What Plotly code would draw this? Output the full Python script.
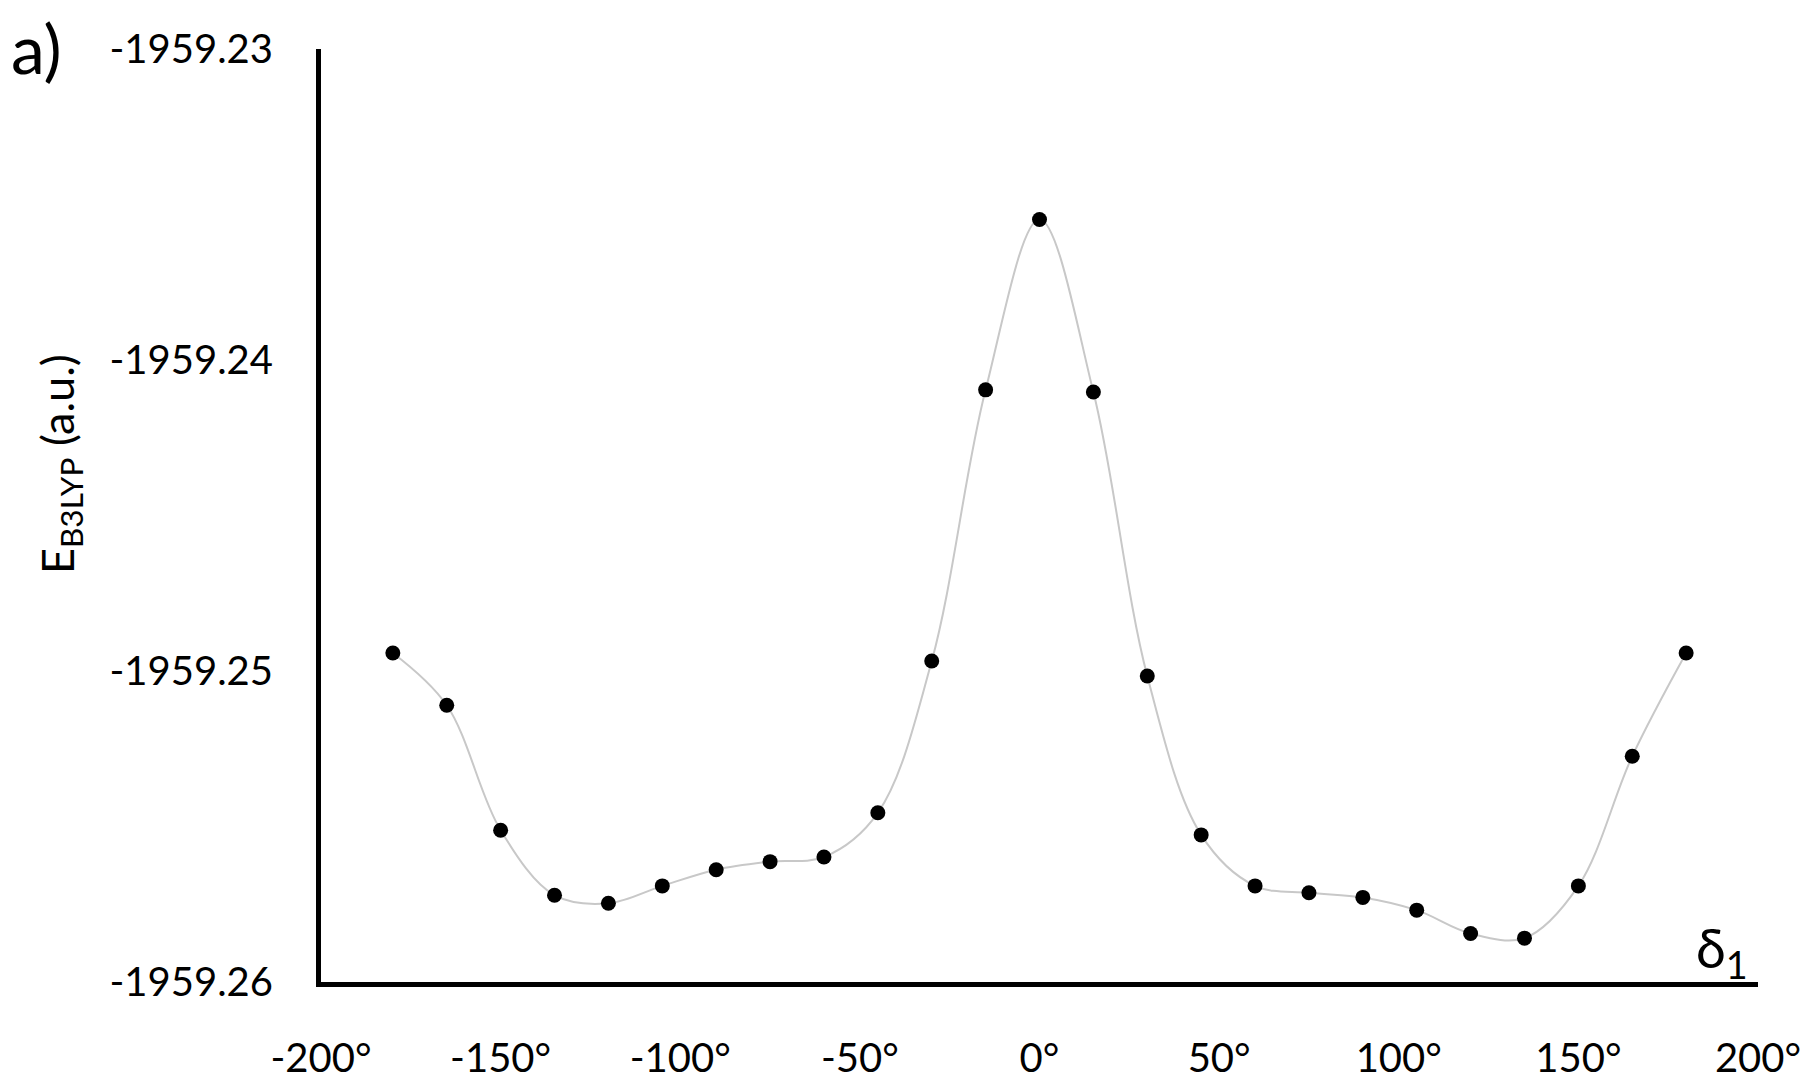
import plotly.graph_objects as go

# torsion angle delta_1 (degrees) and B3LYP energy (a.u.)
angles = [-180, -165, -150, -135, -120, -105, -90, -75, -60, -45, -30, -15, 0,
          15, 30, 45, 60, 75, 90, 105, 120, 135, 150, 165, 180]
energies = [-1959.24942, -1959.25110, -1959.25512, -1959.25721, -1959.25747,
            -1959.25691, -1959.25639, -1959.25613, -1959.25598, -1959.25456,
            -1959.24968, -1959.24096, -1959.23548, -1959.24103, -1959.25016,
            -1959.25527, -1959.25691, -1959.25713, -1959.25728, -1959.25769,
            -1959.25844, -1959.25859, -1959.25691, -1959.25274, -1959.24942]

x_ticks = [-200, -150, -100, -50, 0, 50, 100, 150, 200]
x_labels = [f"{v}°" for v in x_ticks]
y_ticks = [-1959.26, -1959.25, -1959.24, -1959.23]
y_labels = ["-1959.26", "-1959.25", "-1959.24", "-1959.23"]

FONT = "Lato, 'Open Sans', sans-serif"
W, H = 1815, 1080
# the page body adds an 8px offset, margins compensate for it
L, R, T, B = 313, 65, 41, 106


def paper(px, py):
    # figure pixel position -> paper coordinates of the plot area
    return (px - L) / (W - L - R), (H - B - py) / (H - T - B)


fig = go.Figure()

fig.add_trace(go.Scatter(
    x=angles, y=energies,
    mode="lines",
    line=dict(shape="spline", smoothing=1.0, color="#c8c8c8", width=2),
    hoverinfo="skip",
    showlegend=False,
))
fig.add_trace(go.Scatter(
    x=angles, y=energies,
    mode="markers",
    marker=dict(color="black", size=15),
    showlegend=False,
))

ax, ay = paper(28, 39)
tx, ty = paper(52, 456)
dx, dy = paper(1714, 943)

fig.update_layout(
    width=W, height=H,
    paper_bgcolor="white", plot_bgcolor="white",
    margin=dict(l=L, r=R, t=T, b=B),
    font=dict(family=FONT, size=40, color="black"),
    xaxis=dict(
        range=[-200, 200], tickvals=x_ticks, ticktext=x_labels,
        showline=True, linewidth=5, linecolor="black",
        showgrid=False, zeroline=False, ticks="",
        ticklabelstandoff=37, automargin=False,
        tickfont=dict(size=40),
    ),
    yaxis=dict(
        range=[-1959.26, -1959.23], tickvals=y_ticks, ticktext=y_labels,
        showline=True, linewidth=5, linecolor="black",
        showgrid=False, zeroline=False, ticks="",
        ticklabelstandoff=35, automargin=False,
        tickfont=dict(size=40),
    ),
    annotations=[
        dict(text="E<sub>B3LYP</sub> (a.u.)", textangle=-90,
             xref="paper", yref="paper", x=tx, y=ty,
             xanchor="center", yanchor="middle", showarrow=False,
             font=dict(size=45)),
        dict(text="a)", xref="paper", yref="paper", x=ax, y=ay,
             xanchor="center", yanchor="middle", showarrow=False,
             font=dict(size=68)),
        dict(text="δ<sub>1</sub>", xref="paper", yref="paper", x=dx, y=dy,
             xanchor="center", yanchor="middle", showarrow=False,
             font=dict(size=54)),
    ],
)

fig.write_html("out.html")
